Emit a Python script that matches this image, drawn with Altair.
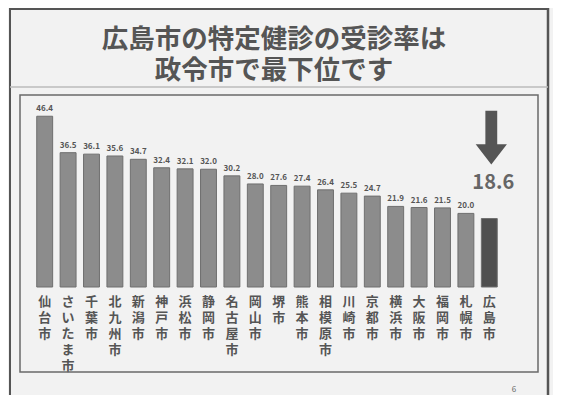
import altair as alt
import pandas as pd

cities = ["仙台市", "さいたま市", "千葉市", "北九州市", "新潟市", "神戸市", "浜松市", "静岡市",
          "名古屋市", "岡山市", "堺市", "熊本市", "相模原市", "川崎市", "京都市", "横浜市",
          "大阪市", "福岡市", "札幌市", "広島市"]
rates = [46.4, 36.5, 36.1, 35.6, 34.7, 32.4, 32.1, 32.0, 30.2, 28.0, 27.6, 27.4, 26.4,
         25.5, 24.7, 21.9, 21.6, 21.5, 20.0, 18.6]
highlight = "広島市"
title_lines = ["広島市の特定健診の受診率は", "政令市で最下位です"]
page_no = "6"

df = pd.DataFrame({"city": cities, "rate": rates})
df["hl"] = df["city"] == highlight

FONT = "Noto Sans CJK JP"
W, H = 468, 184

x = alt.X("city:N", sort=cities,
          scale=alt.Scale(paddingInner=0.32, paddingOuter=0.16),
          axis=alt.Axis(title=None, labelAngle=0, labelExpr="split(datum.label, '')",
                        labelLineHeight=16, labelFontSize=13, labelFont=FONT,
                        labelFontWeight="bold", labelColor="#555555", labelBaseline="top",
                        labelPadding=8, ticks=False, domain=False, labelBound=False,
                        labelOverlap=False))
y = alt.Y("rate:Q", scale=alt.Scale(domain=[0, 50]), axis=None)

base = alt.Chart(df)

bars = base.mark_bar(stroke="#6f6f6f", strokeWidth=1).encode(
    x=x, y=y,
    color=alt.condition("datum.hl", alt.value("#4f4f4f"), alt.value("#8c8c8c")),
)

labels = base.transform_filter("!datum.hl").mark_text(
    dy=-7, fontSize=8, fontWeight="bold", font=FONT, color="#555555"
).encode(x=x, y=y, text=alt.Text("rate:Q", format=".1f"))

big = base.transform_filter("datum.hl").mark_text(
    dy=-36, dx=4, fontSize=20, fontWeight="bold", font=FONT, color="#666666"
).encode(x=x, y=y, text=alt.Text("rate:Q", format=".1f"))

arrow_path = "M-0.22,-1 L0.22,-1 L0.22,0.25 L0.58,0.25 L0,1 L-0.58,0.25 L-0.22,0.25 Z"
arrow = base.transform_filter("datum.hl").transform_calculate(ay="40.6").mark_point(
    shape=arrow_path, size=2900, filled=True, color="#555555", opacity=1, xOffset=2
).encode(x=x, y=alt.Y("ay:Q"))

frame_df = pd.DataFrame({"k": [1]})
outer_box = alt.Chart(frame_df).mark_rect(fill=None, stroke="#555555", strokeWidth=2).encode(
    x=alt.value(-23), x2=alt.value(515), y=alt.value(-94), y2=alt.value(310))
right_line = alt.Chart(frame_df).mark_rule(stroke="#555555", strokeWidth=2.5).encode(
    x=alt.value(515), y=alt.value(-103), y2=alt.value(310))
sep_line = alt.Chart(frame_df).mark_rule(stroke="#bbbbbb", strokeWidth=1.5).encode(
    x=alt.value(-23), x2=alt.value(515), y=alt.value(-16))
chart_box = alt.Chart(frame_df).mark_rect(fill=None, stroke="#6a6a6a", strokeWidth=1.5).encode(
    x=alt.value(-13), x2=alt.value(505), y=alt.value(-8), y2=alt.value(269))
page = alt.Chart(frame_df).mark_text(fontSize=8, color="#666666", font=FONT).encode(
    x=alt.value(481), y=alt.value(287), text=alt.value(page_no))
title = alt.Chart(frame_df).mark_text(
    fontSize=26.5, lineHeight=31, font=FONT, fontWeight="bold", color="#555555",
    align="center", baseline="top"
).encode(x=alt.value(241), y=alt.value(-76), text=alt.value(title_lines))

chart = alt.layer(outer_box, right_line, sep_line, chart_box, title,
                  bars, labels, big, arrow, page).properties(
    width=W, height=H,
    background="#f2f2f2",
    autosize=alt.AutoSizeParams(type="none"),
    padding={"left": 25, "top": 95, "right": 52, "bottom": 108},
).configure_view(stroke=None)

chart.save("out.html", embed_options={"renderer": "svg", "actions": False})
